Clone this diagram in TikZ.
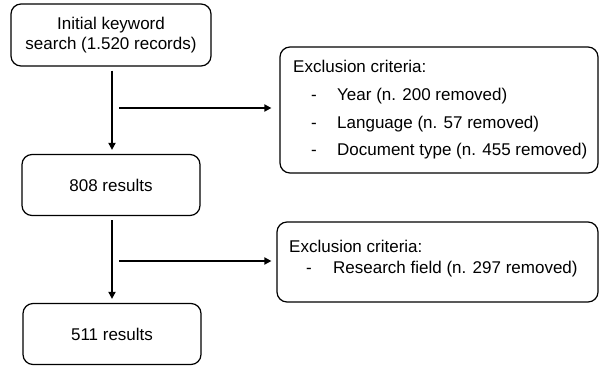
\documentclass[tikz,border=0pt]{standalone}
\usepackage{fontspec}
\setmainfont{Liberation Sans}
\usetikzlibrary{arrows.meta}
\begin{document}
\begin{tikzpicture}[x=1pt,y=-1pt,
  box/.style={draw, rounded corners=10pt, line width=1.2pt, inner sep=0pt, align=center},
  arr/.style={line width=1.8pt, -{Triangle[length=7pt,width=7pt]}},
  txt/.style={anchor=west, inner sep=0pt, text height=12pt, text depth=4pt},
  font=\fontsize{17}{20}\selectfont]
\useasboundingbox (0,0) rectangle (601,367);
\node[box, minimum width=200pt, minimum height=62pt] (init) at (111,35) {Initial keyword\\search (1.520 records)};
\node[box, minimum width=178pt, minimum height=61pt] (r808) at (111,185) {808 results};
\node[box, minimum width=178pt, minimum height=61pt] (r511) at (112,334) {511 results};
\node[box, minimum width=318pt, minimum height=126pt] (ex1) at (439,110) {};
\node[box, minimum width=321pt, minimum height=80pt] (ex2) at (437.5,262) {};
% texts of exclusion box 1
\node[txt] (e1h) at (293,68) {Exclusion criteria:};
\node[txt] (e1d1) at (311,96) {-};
\node[txt] (e1a) at (337,96) {Year (n. 200 removed)};
\node[txt] (e1d2) at (311,124) {-};
\node[txt] (e1b) at (337,124) {Language (n. 57 removed)};
\node[txt] (e1d3) at (311,151) {-};
\node[txt] (e1c) at (337,151) {Document type (n. 455 removed)};
% texts of exclusion box 2
\node[txt] (e2h) at (289,248) {Exclusion criteria:};
\node[txt] (e2d1) at (306,269) {-};
\node[txt] (e2a) at (333,269) {Research field (n. 297 removed)};
% connectors
\coordinate (b1) at (119,108);
\coordinate (b2) at (119,261);
\draw[arr, shorten <=4pt, shorten >=4pt] (init.south -| 112,0) -- (r808.north -| 112,0);
\draw[arr, shorten <=4pt, shorten >=4pt] (r808.south -| 112,0) -- (r511.north -| 112,0);
\draw[arr, shorten >=8pt] (b1) -- (b1 -| ex1.west);
\draw[arr, shorten >=5pt] (b2) -- (b2 -| ex2.west);
\end{tikzpicture}
\end{document}
